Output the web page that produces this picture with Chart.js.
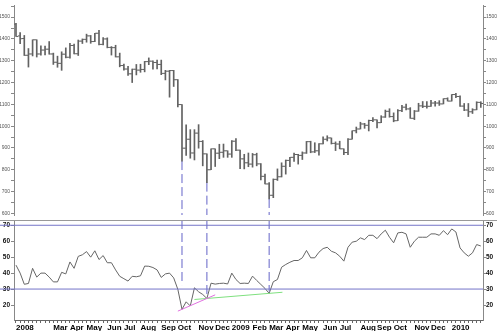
<!DOCTYPE html>
<html>
<head>
<meta charset="utf-8">
<script src="https://cdn.jsdelivr.net/npm/chart.js@4"></script>
<style>
  body { margin: 0; background: #fff; width: 497px; height: 331px; overflow: hidden; position: relative; }
  #price { position: absolute; left: 0; top: 0; }
  #rsi { position: absolute; left: 0; top: 220px; }
  #sep { position: absolute; left: 0; top: 220px; width: 497px; height: 1px; background: #999; }
</style>
</head>
<body>
<canvas id="price" width="497" height="220"></canvas>
<canvas id="rsi" width="497" height="111"></canvas>
<div id="sep"></div>
<script>
// weekly bars, Jan 2008 - Feb 2010
const opens = [1468,1414,1402,1325,1331,1396,1331,1349,1353,1331,1293,1288,1330,1316,1370,1332,1390,1398,1414,1388,
  1426,1375,1400,1361,1360,1318,1278,1262,1240,1261,1257,1260,1296,1298,1292,1283,1242,1252,1255,1213,
  1099,899,940,877,968,930,873,800,896,876,880,887,872,931,890,850,832,826,869,827,
  770,735,683,756,768,816,843,857,870,866,877,929,882,887,919,940,946,921,918,896,
  879,940,979,987,1010,1004,1026,1029,1016,1042,1068,1044,1025,1071,1087,1079,1036,1069,1093,1091,
  1091,1106,1106,1102,1126,1115,1145,1136,1092,1074,1066,1075,1109];
const highs = [1471,1429,1416,1356,1396,1396,1368,1367,1388,1335,1321,1341,1359,1380,1376,1395,1400,1422,1416,1426,
  1440,1406,1405,1365,1371,1335,1285,1274,1262,1283,1284,1297,1313,1300,1303,1303,1256,1256,1256,1214,
  1099,1006,984,984,1007,934,873,896,896,917,918,887,934,943,890,871,877,875,876,828,
  780,741,758,804,832,845,857,876,871,882,930,931,924,920,951,956,946,928,931,896,
  943,979,996,1018,1013,1028,1039,1029,1048,1074,1080,1061,1076,1096,1101,1085,1072,1105,1113,1113,
  1119,1114,1117,1126,1130,1145,1150,1139,1104,1104,1080,1112,1112];
const lows = [1411,1378,1324,1271,1322,1317,1325,1327,1330,1283,1270,1256,1313,1312,1331,1324,1379,1385,1380,1387,
  1373,1373,1359,1326,1317,1272,1257,1233,1200,1235,1247,1249,1282,1261,1262,1236,1212,1133,1182,1088,
  840,866,853,845,899,818,741,800,815,851,857,857,857,888,805,804,814,812,818,754,
  735,666,672,751,767,780,814,838,826,847,875,878,879,867,919,932,918,888,896,869,
  869,940,969,987,990,978,1021,992,1016,1040,1041,1020,1025,1067,1074,1036,1030,1068,1085,1083,
  1091,1092,1095,1102,1115,1115,1131,1090,1071,1044,1058,1075,1086];
const closes = [1411,1401,1325,1331,1396,1331,1349,1353,1331,1293,1288,1330,1316,1370,1332,1390,1398,1414,1388,1426,
  1375,1400,1361,1360,1318,1278,1262,1240,1261,1257,1260,1296,1298,1292,1283,1242,1252,1255,1213,1099,
  899,940,877,968,930,873,800,896,876,880,887,872,931,890,850,832,826,869,827,770,
  735,683,756,768,816,843,857,870,866,877,929,882,887,919,940,946,921,918,896,879,
  940,979,987,1010,1004,1026,1029,1016,1042,1068,1044,1025,1071,1087,1079,1036,1069,1093,1091,1091,
  1106,1106,1102,1126,1115,1145,1136,1092,1074,1066,1075,1109,1104];

// RSI below the price panel
const rsi = [45,40,33,33.5,43,37.5,40,40,37.5,34.5,34.5,40.5,39.5,47,43,50.5,51.5,53.5,50,54,
  48.5,51,46.5,46.5,42,38,36.5,35,38,37.7,38.3,44.4,44.3,43.5,42,37.3,39.5,40,37,29.8,
  17.3,22,19.4,30.8,28.3,26.6,24.1,33.7,33.1,33.5,33.7,33.2,40,36,33.5,33.7,33.5,38.1,35.4,32.9,
  30.4,27.3,34.6,36,43.7,45.4,46.8,47.9,47.9,49.6,54.2,49.6,49.6,53.1,55.4,56.2,53.7,52.7,50.6,47.5,
  56.2,59.4,60,62.1,61,63.7,63.7,61.6,64.6,66.9,62.5,59,65.2,65.6,64.6,56.2,60,62.5,62.5,62.5,
  64.6,64.6,63.7,66.6,64.1,67.7,65.8,55.8,52.7,50.6,52.7,57.9,57];

// axis labels: [week index, text]
const monthTicks = [[0,"2008"],[9,"Mar"],[13,"Apr"],[17,"May"],[22,"Jun"],[26,"Jul"],[30,"Aug"],[35,"Sep"],
  [39,"Oct"],[44,"Nov"],[48,"Dec"],[52,"2009"],[57,"Feb"],[61,"Mar"],[65,"Apr"],[69,"May"],[74,"Jun"],
  [78,"Jul"],[83,"Aug"],[87,"Sep"],[91,"Oct"],[96,"Nov"],[100,"Dec"],[105,"2010"]];
const priceTicks = [600,700,800,900,1000,1100,1200,1300,1400,1500];
const priceMinor = [650,750,850,950,1050,1150,1250,1350,1450,1550];
const rsiTicks = [20,30,40,50,60,70];
const rsiLevels = [70,30];

// marked lows, and where the dashes stop in the RSI panel
const lowWeeks = [40,46,61];
const dashEnds = [32.5,25,28.5];
// trend lines on RSI: anchor weeks, drawn span
const trendLines = [
  { a: 40, b: 46, from: 39, to: 48 },
  { a: 46, b: 61, from: 43, to: 64.2 }
];

const weeks = closes.map((c, i) => i);
const xMin = -0.48, xMax = 112.53;
const xEdge = -3.9; // level lines run out to the left edge
const priceMin = 592.6, priceMax = 1555.6;
const rsiMin = 10.6, rsiMax = 73.3;

const FONT = "'Liberation Sans', Arial, sans-serif";
const labelMap = {};
monthTicks.forEach(([i, t]) => { labelMap[i] = t; });

function fixWidth(w) {
  return function (scale) {
    scale.width = w;
    scale.paddingTop = 0;
    scale.paddingBottom = 0;
  };
}

function yAxis(pos, min, max, ticks, extra, font, color) {
  return {
    type: "linear",
    position: pos,
    min: min,
    max: max,
    afterBuildTicks: (s) => {
      s.ticks = ticks.concat(extra).sort((a, b) => a - b).map((v) => ({ value: v }));
    },
    afterFit: fixWidth(14),
    grid: { drawOnChartArea: false, tickLength: 3, color: "#888" },
    border: { display: true, color: "#888" },
    ticks: {
      padding: pos === "left" ? 1 : 0,
      color: color,
      font: font,
      callback: (v) => (ticks.includes(v) ? String(v) : "")
    }
  };
}

const dashColor = "#6464c8";
const barColor = "#626262";

// price panel
const priceSets = [
  {
    type: "bar",
    data: weeks.map((i) => ({ x: i, y: [lows[i], highs[i]] })),
    backgroundColor: barColor,
    barThickness: 1,
    grouped: false
  },
  {
    type: "scatter",
    data: weeks.map((i) => ({ x: i - 0.3, y: opens[i] })),
    pointStyle: "line",
    pointRadius: 1,
    pointBorderWidth: 1,
    pointBorderColor: barColor
  },
  {
    type: "scatter",
    data: weeks.map((i) => ({ x: i + 0.3, y: closes[i] })),
    pointStyle: "line",
    pointRadius: 1,
    pointBorderWidth: 1,
    pointBorderColor: barColor
  }
];
lowWeeks.forEach((i) => {
  priceSets.push({
    type: "line",
    data: [{ x: i, y: lows[i] }, { x: i, y: priceMin }],
    borderColor: dashColor,
    borderWidth: 1,
    borderDash: [9, 4],
    pointRadius: 0
  });
});

new Chart(document.getElementById("price"), {
  type: "bar",
  data: { datasets: priceSets },
  options: {
    responsive: false,
    animation: false,
    layout: { padding: 0 },
    plugins: { legend: { display: false }, tooltip: { enabled: false } },
    scales: {
      x: { type: "linear", min: xMin, max: xMax, offset: false, display: false },
      y: yAxis("left", priceMin, priceMax, priceTicks, priceMinor, { family: FONT, size: 5 }, "#555"),
      y2: yAxis("right", priceMin, priceMax, priceTicks, priceMinor, { family: FONT, size: 5 }, "#555")
    }
  }
});

// RSI panel
const rsiSets = [];
rsiLevels.forEach((lv) => {
  rsiSets.push({
    data: [{ x: xEdge, y: lv }, { x: xMax, y: lv }],
    borderColor: "#7474c8",
    borderWidth: 1,
    pointRadius: 0,
    clip: { left: false, right: 0, top: 0, bottom: 0 }
  });
});
lowWeeks.forEach((i, k) => {
  rsiSets.push({
    data: [{ x: i, y: rsiMax }, { x: i, y: dashEnds[k] }],
    borderColor: dashColor,
    borderWidth: 1,
    borderDash: [9, 4],
    pointRadius: 0
  });
});
const trendColors = ["#e070e0", "#7fe07f"];
trendLines.forEach((t, k) => {
  const slope = (rsi[t.b] - rsi[t.a]) / (t.b - t.a);
  rsiSets.push({
    data: [t.from, t.to].map((x) => ({ x: x, y: rsi[t.a] + slope * (x - t.a) })),
    borderColor: trendColors[k],
    borderWidth: 1,
    pointRadius: 0
  });
});
rsiSets.push({
  data: weeks.map((i) => ({ x: i, y: rsi[i] })),
  borderColor: "#666",
  borderWidth: 1,
  pointRadius: 0,
  tension: 0
});

const rsiFont = { family: FONT, size: 6.5, weight: "bold" };
new Chart(document.getElementById("rsi"), {
  type: "line",
  data: { datasets: rsiSets },
  options: {
    responsive: false,
    animation: false,
    layout: { padding: 0 },
    plugins: { legend: { display: false }, tooltip: { enabled: false } },
    scales: {
      x: {
        type: "linear",
        min: xMin,
        max: xMax,
        afterBuildTicks: (s) => {
          s.ticks = weeks.map((i) => ({ value: i }));
        },
        afterFit: (s) => {
          s.height = 11;
          s.paddingLeft = 0;
          s.paddingRight = 0;
        },
        grid: { drawOnChartArea: false, tickLength: 3, color: "#666" },
        border: { display: true, color: "#666" },
        ticks: {
          autoSkip: false,
          maxRotation: 0,
          align: "start",
          padding: 0,
          color: "#000",
          font: { family: FONT, size: 8, weight: "bold" },
          callback: (v) => labelMap[v] || ""
        }
      },
      y: yAxis("left", rsiMin, rsiMax, rsiTicks, [], rsiFont, "#111"),
      y2: yAxis("right", rsiMin, rsiMax, rsiTicks, [], rsiFont, "#111")
    }
  }
});
</script>
</body>
</html>
